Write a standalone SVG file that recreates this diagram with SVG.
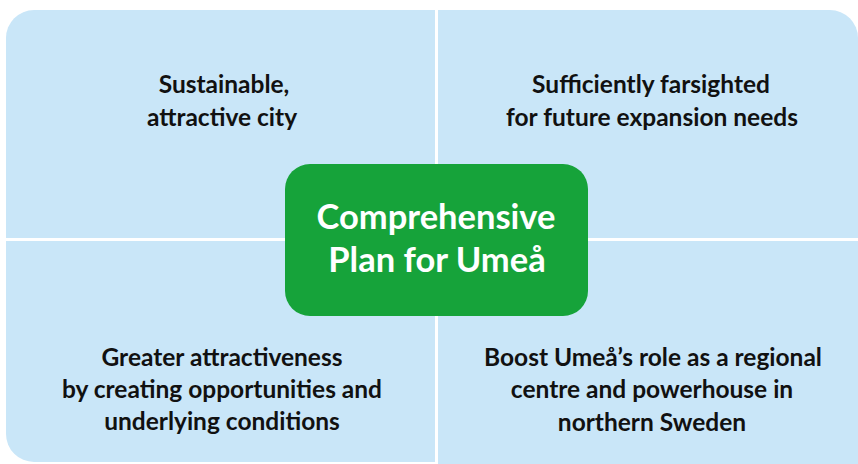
<svg xmlns="http://www.w3.org/2000/svg" width="858" height="464" viewBox="0 0 858 464">
<style>
.q{fill:#c9e6f8}
.t{font-family:Lato,"Open Sans","Liberation Sans",sans-serif;font-weight:bold;font-size:24.5px;fill:#111;text-anchor:middle}
.c{font-family:Lato,"Open Sans","Liberation Sans",sans-serif;font-weight:bold;font-size:34.5px;fill:#fff;text-anchor:middle}
</style>
<rect width="858" height="464" fill="#fff"/>
<g id="q-tl"><path class="q" d="M6,38 A28,28 0 0 1 34,10 H435 V238 H6 Z"/>
<text class="t" x="224" y="93">Sustainable,</text><text class="t" x="222" y="126">attractive city</text></g>
<g id="q-tr"><path class="q" d="M438,10 H830 A28,28 0 0 1 858,38 V238 H438 Z"/>
<text class="t" x="651" y="93">Sufficiently farsighted</text><text class="t" x="652" y="126">for future expansion needs</text></g>
<g id="q-bl"><path class="q" d="M6,241 H435 V462 H34 A28,28 0 0 1 6,434 Z"/>
<text class="t" x="222" y="366">Greater attractiveness</text><text class="t" x="222" y="398">by creating opportunities and</text><text class="t" x="222" y="430">underlying conditions</text></g>
<g id="q-br"><path class="q" d="M438,241 H858 V464 H438 Z"/>
<text class="t" x="653" y="366">Boost Umeå’s role as a regional</text><text class="t" x="652" y="398">centre and powerhouse in</text><text class="t" x="652" y="431">northern Sweden</text></g>
<g id="center"><rect x="285" y="164" width="303" height="152" rx="25" fill="#16a33a"/>
<text class="c" x="436" y="229">Comprehensive</text><text class="c" x="437" y="272">Plan for Umeå</text></g>
<g id="connectors"></g>
</svg>
